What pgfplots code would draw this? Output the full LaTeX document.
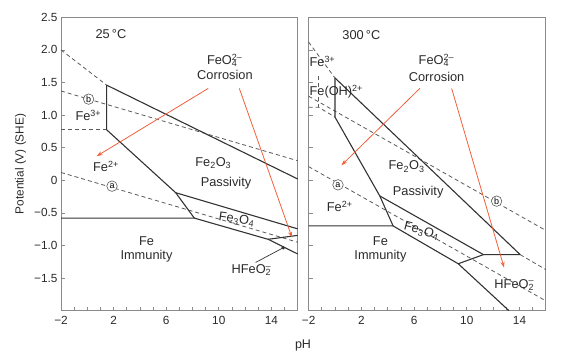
\documentclass[border=0pt]{standalone}
\usepackage{pgfplots}
\pgfplotsset{compat=1.18}
\usepackage{fontspec}
\setmainfont{Liberation Sans}
\usetikzlibrary{arrows.meta}
\definecolor{arr}{HTML}{F0603A}
\definecolor{fr}{HTML}{8A8A8A}
\definecolor{sl}{HTML}{333333}
\definecolor{dl}{HTML}{5A5A5A}
\definecolor{tx}{HTML}{2A2A2A}
\pgfplotsset{
  pb/.style={scale only axis, height=293.4pt, xmin=-2, xmax=16, ymin=-2, ymax=2.5,
    axis line style={fr, line width=0.9pt}, tick align=inside, tick pos=left,
    xtick={-2,2,6,10,14}, xticklabels={−2,2,6,10,14}, minor xtick={-1,0,...,15},
    ytick={-1.5,-1,...,2.5}, major tick length=4pt, minor tick length=4pt,
    tick style={fr, line width=0.7pt},
    ticklabel style={font=\fontsize{11.8}{14}\selectfont, text=tx},
    xticklabel style={yshift=-2.5pt}, clip=false},
  sol/.style={sl, line width=1.1pt, no marks},
  dsh/.style={dl, line width=0.8pt, dash pattern=on 4pt off 3pt, no marks},
  ar/.style={arr, line width=0.8pt, no marks, -{Stealth[length=6pt,width=4pt]}},
}
\tikzset{cl/.style={circle, draw=dl, fill=white, line width=0.6pt, inner sep=0pt, minimum size=10.5pt, font=\fontsize{9}{9}\selectfont},
  lb/.style={font=\fontsize{12.8}{14}\selectfont, text=tx}}
\begin{document}
\begin{tikzpicture}[x=1pt,y=1pt]
\useasboundingbox (0,0) rectangle (571,356);
% ---------------- 25 C ----------------
\begin{axis}[pb, at={(61pt,45.3pt)}, anchor=south west, width=236.7pt,
  yticklabels={−1.5,−1.0,−0.5,0,0.5,1.0,1.5,2.0,2.5}]
\addplot[dsh] coordinates {(-2,2.0) (1.47,1.46)};
\addplot[dsh] coordinates {(-2,1.37) (16,0.30)};
\addplot[dsh] coordinates {(-2,0.775) (1.47,0.775)};
\addplot[dsh] coordinates {(-2,0.12) (16,-0.95)};
\addplot[sol] coordinates {(1.47,1.46) (16,0.02)};
\addplot[sol] coordinates {(1.47,1.46) (1.47,0.775) (6.72,-0.19) (8.14,-0.58)};
\addplot[sol] coordinates {(-2,-0.58) (8.14,-0.58) (13.75,-0.905) (16,-1.13)};
\addplot[sol] coordinates {(6.72,-0.19) (16,-0.745)};
\addplot[sol] coordinates {(13.75,-0.905) (16,-0.845)};
\addplot[sl, line width=0.7pt, mark=*, mark size=1.3pt, mark indices={2}] coordinates {(12.8,-1.26) (14.9,-1.035)};
\addplot[ar] coordinates {(9.2,1.41) (0.71,0.37)};
\addplot[ar] coordinates {(11.56,1.41) (15.57,-0.88)};
\node[lb] at (axis cs:1.8,2.24) {25\,°C};
\node[lb] at (axis cs:10.47,1.84) {FeO\rlap{\textsuperscript{2–}}\textsubscript{4}\phantom{\textsuperscript{2}}};
\node[lb] at (axis cs:10.47,1.62) {Corrosion};
\node[lb] at (axis cs:0.08,0.99) {Fe\textsuperscript{3+}};
\node[lb] at (axis cs:1.42,0.21) {Fe\textsuperscript{2+}};
\node[lb] at (axis cs:9.58,0.27) {Fe\textsubscript{2}O\textsubscript{3}};
\node[lb] at (axis cs:10.55,-0.05) {Passivity};
\node[lb, rotate=-8] at (axis cs:11.36,-0.60) {Fe\textsubscript{3}O\textsubscript{4}};
\node[lb] at (axis cs:4.5,-0.93) {Fe};
\node[lb] at (axis cs:4.5,-1.16) {Immunity};
\node[lb] at (axis cs:12.48,-1.38) {HFeO\rlap{\textsuperscript{–}}\textsubscript{2}};
\node[cl] at (axis cs:0.1,1.245) {b};
\node[cl] at (axis cs:1.88,-0.09) {a};
\end{axis}
% ---------------- 300 C ----------------
\begin{axis}[pb, at={(308.6pt,45.3pt)}, anchor=south west, width=237.3pt,
  yticklabels={}]
\addplot[dsh] coordinates {(-2,2.12) (0,1.57)};
\addplot[dsh] coordinates {(-1.24,1.6) (-1.24,1.12)};
\addplot[dsh] coordinates {(-2,1.12) (-1.24,1.12) (0,0.97)};
\addplot[dsh] coordinates {(-2,1.29) (16,-0.77)};
\addplot[dsh] coordinates {(-2,0.21) (16,-1.85)};
\addplot[dsh] coordinates {(14.05,-1.14) (16,-1.37)};
\addplot[sol] coordinates {(0,1.57) (14.05,-1.14)};
\addplot[sol] coordinates {(0,1.57) (0,0.97) (3.4,-0.24) (4.41,-0.70)};
\addplot[sol] coordinates {(-2,-0.70) (4.41,-0.70) (9.35,-1.28) (13.2,-2.0)};
\addplot[sol] coordinates {(3.4,-0.24) (11.26,-1.14) (14.05,-1.14)};
\addplot[sol] coordinates {(9.35,-1.28) (11.26,-1.14)};
\addplot[ar] coordinates {(6.44,1.41) (0.49,0.23)};
\addplot[ar] coordinates {(8.85,1.41) (12.83,-1.34)};
\node[lb] at (axis cs:2.0,2.23) {300\,°C};
\node[lb] at (axis cs:7.71,1.84) {FeO\rlap{\textsuperscript{2–}}\textsubscript{4}\phantom{\textsuperscript{2}}};
\node[lb] at (axis cs:7.71,1.58) {Corrosion};
\node[lb, anchor=west, inner sep=0.5pt] at (axis cs:-1.98,1.82) {Fe\textsuperscript{3+}};
\node[lb, anchor=west, inner sep=0.5pt] at (axis cs:-1.98,1.36) {Fe(OH)\textsuperscript{2+}};
\node[lb] at (axis cs:5.43,0.21) {Fe\textsubscript{2}O\textsubscript{3}};
\node[lb] at (axis cs:6.31,-0.18) {Passivity};
\node[lb] at (axis cs:0.36,-0.40) {Fe\textsuperscript{2+}};
\node[lb, rotate=-15] at (axis cs:6.57,-0.78) {Fe\textsubscript{3}O\textsubscript{4}};
\node[lb] at (axis cs:3.45,-0.93) {Fe};
\node[lb] at (axis cs:3.45,-1.16) {Immunity};
\node[lb] at (axis cs:13.6,-1.6) {HFeO\rlap{\textsuperscript{–}}\textsubscript{2}};
\node[cl] at (axis cs:12.26,-0.32) {b};
\node[cl] at (axis cs:0.23,-0.07) {a};
\end{axis}
\node[rotate=90, font=\fontsize{11.8}{14}\selectfont, text=tx] at (20.5,192) {Potential (V) (SHE)};
\node[font=\fontsize{12.5}{14}\selectfont, text=tx] at (303,11) {pH};
\end{tikzpicture}
\end{document}
